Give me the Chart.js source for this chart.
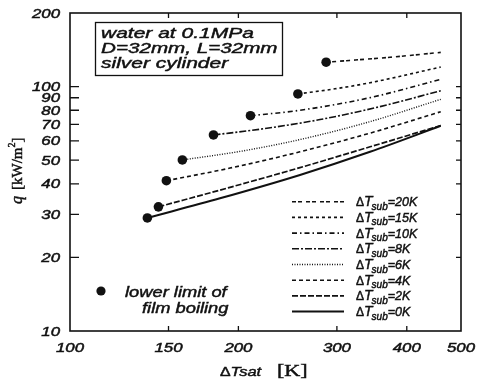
<!DOCTYPE html>
<html>
<head>
<meta charset="utf-8">
<script src="https://cdn.jsdelivr.net/npm/chart.js@4.4.1/dist/chart.umd.min.js"></script>
<style>
  html, body { margin: 0; padding: 0; background: #fff; }
  #wrap { width: 483px; height: 381px; }
</style>
</head>
<body>
<div id="wrap"><canvas id="boilChart" width="483" height="381"></canvas></div>
<script>
// 膜沸騰曲線：各系列の先頭点が膜沸騰の下限
const xTicks = [100, 150, 200, 300, 400, 500];
const yTicks = [10, 20, 30, 40, 50, 60, 70, 80, 90, 100, 200];
const subLabels = ['20K', '15K', '10K', '8K', '6K', '4K', '2K', '0K'];

// [ΔTsat (K), q (kW/m2)]
const sub20 = [[287, 125.8], [373.4, 131.8], [460, 138]];
const sub15 = [[255.5, 93.3], [297.6, 97.9], [343.9, 103.7], [460, 120.2]];
const sub10 = [[210.2, 76], [257.7, 80], [343.9, 90.1], [460, 107.1]];
const sub8 = [[180.5, 63.4], [218.6, 66.9], [279.9, 73.3], [358.3, 82.8], [460, 96.2]];
const sub6 = [[158.8, 50.1], [201.4, 54.3], [257.7, 60.7], [343.9, 71.9], [460, 88.7]];
const sub4 = [[148.7, 41.2], [193.2, 46.4], [257.7, 54.1], [343.9, 64.5], [460, 78.9]];
const sub2 = [[143.9, 32.2], [193.2, 38.7], [257.7, 46.6], [343.9, 56.7], [460, 69.3]];
const sub0 = [[137.5, 29], [185.4, 34.9], [257.7, 43.5], [343.9, 54.1], [460, 69.1]];

const curves = [sub20, sub15, sub10, sub8, sub6, sub4, sub2, sub0];

// 線種
const lineStyles = [
  { dash: [4, 2, 4, 4], w: 1.6 },
  { dash: [3, 3], w: 1.6 },
  { dash: [5, 3, 1.5, 3], w: 1.6 },
  { dash: [7, 2, 2, 2], w: 1.6 },
  { dash: [1, 1.5], w: 1.4 },
  { dash: [4, 3], w: 1.6 },
  { dash: [6, 2], w: 1.7 },
  { dash: [], w: 2 }
];

const INK = '#111';
const SANS = '"Liberation Sans", Arial, sans-serif';
const SERIF = '"Liberation Serif", "Times New Roman", serif';
const TEXT_STROKE = 0.45;

function inkText(ctx, str) {
  ctx.fillText(str, 0, 0);
  ctx.lineWidth = TEXT_STROKE;
  ctx.strokeText(str, 0, 0);
}

// 横に引き伸ばした文字列
function wideText(ctx, str, x, y, font, align, sx) {
  ctx.save();
  ctx.font = font;
  const w = ctx.measureText(str).width * sx;
  let x0 = x;
  if (align === 'center') x0 = x - w / 2;
  else if (align === 'right') x0 = x - w;
  ctx.translate(x0, y);
  ctx.scale(sx, 1);
  ctx.textAlign = 'left';
  ctx.textBaseline = 'alphabetic';
  inkText(ctx, str);
  ctx.restore();
  return w;
}

// フォント混在の文字列（添字など）
function runText(ctx, runs, x, y, sx) {
  let cx = x;
  runs.forEach(r => {
    ctx.save();
    ctx.font = r.font;
    ctx.textAlign = 'left';
    ctx.textBaseline = 'alphabetic';
    ctx.translate(cx, y + (r.dy || 0));
    ctx.scale(sx, 1);
    inkText(ctx, r.t);
    cx += (ctx.measureText(r.t).width + (r.gap || 0)) * sx;
    ctx.restore();
  });
  return cx;
}

const decor = {
  id: 'decor',
  afterDraw(chart) {
    const { ctx, chartArea: a, scales: { x, y } } = chart;
    ctx.save();
    ctx.strokeStyle = INK;
    ctx.fillStyle = INK;

    // 枠
    ctx.lineWidth = 1.6;
    ctx.strokeRect(a.left, a.top, a.right - a.left, a.bottom - a.top);

    // 内向きの目盛
    ctx.lineWidth = 1.3;
    ctx.beginPath();
    xTicks.slice(1, -1).forEach(v => {
      const px = x.getPixelForValue(v);
      ctx.moveTo(px, a.bottom); ctx.lineTo(px, a.bottom - 5);
      ctx.moveTo(px, a.top); ctx.lineTo(px, a.top + 5);
    });
    yTicks.slice(1, -1).forEach(v => {
      const py = y.getPixelForValue(v);
      ctx.moveTo(a.left, py); ctx.lineTo(a.left + 9, py);
      ctx.moveTo(a.right, py); ctx.lineTo(a.right - 5, py);
    });
    ctx.stroke();

    // 目盛ラベル
    const tickFont = 'italic 12px ' + SANS;
    yTicks.forEach(v => wideText(ctx, String(v), 60, y.getPixelForValue(v) + 4.5, tickFont, 'right', 1.4));
    xTicks.forEach(v => wideText(ctx, String(v), x.getPixelForValue(v), 351.5, tickFont, 'center', 1.4));

    // 横軸タイトル
    runText(ctx, [
      { t: 'Δ', font: '12.5px ' + SANS },
      { t: 'Tsat', font: 'italic 13px ' + SANS }
    ], 220, 376, 1.27);
    wideText(ctx, '[K]', 277, 376, '17px ' + SERIF, 'left', 1.3);

    // 縦軸タイトル
    ctx.save();
    ctx.translate(22, 204);
    ctx.rotate(-Math.PI / 2);
    runText(ctx, [
      { t: 'q', font: 'italic 16px ' + SERIF, gap: 6 },
      { t: '[kW/m', font: '15px ' + SERIF },
      { t: '2', font: '10px ' + SERIF, dy: -7 },
      { t: ']', font: '15px ' + SERIF }
    ], 0, 0, 1);
    ctx.restore();

    // 条件の枠
    ctx.lineWidth = 1.3;
    ctx.strokeRect(95.5, 22.5, 187, 53);
    const infoFont = 'italic 15px ' + SANS;
    wideText(ctx, 'water at 0.1MPa', 101, 38, infoFont, 'left', 1.4);
    wideText(ctx, 'D=32mm, L=32mm', 101, 53, infoFont, 'left', 1.375);
    wideText(ctx, 'silver cylinder', 101, 68, infoFont, 'left', 1.4);

    // 凡例
    subLabels.forEach((lab, i) => {
      const ry = 201.7 + i * 15.7;
      const st = lineStyles[i];
      ctx.save();
      ctx.lineWidth = st.w;
      ctx.setLineDash(st.dash);
      ctx.beginPath();
      ctx.moveTo(292, ry); ctx.lineTo(344, ry);
      ctx.stroke();
      ctx.restore();
      runText(ctx, [
        { t: 'Δ', font: '12px ' + SANS },
        { t: 'T', font: 'italic 14px ' + SANS, gap: -1 },
        { t: 'sub', font: 'italic 10px ' + SANS, dy: 3.5 },
        { t: '=' + lab, font: 'italic 12.5px ' + SANS }
      ], 356, ry + 4.5, 1);
    });

    // 下限点の凡例
    ctx.beginPath();
    ctx.arc(101, 291, 4.6, 0, Math.PI * 2);
    ctx.fill();
    const noteFont = 'italic 15px ' + SANS;
    wideText(ctx, 'lower limit of', 125, 296.5, noteFont, 'left', 1.22);
    wideText(ctx, 'film boiling', 142, 313, noteFont, 'left', 1.22);

    ctx.restore();
  }
};

new Chart(document.getElementById('boilChart'), {
  type: 'line',
  data: {
    datasets: curves.map((c, i) => ({
      label: 'ΔTsub=' + subLabels[i],
      data: c.map(p => ({ x: p[0], y: p[1] })),
      borderColor: INK,
      borderWidth: lineStyles[i].w,
      borderDash: lineStyles[i].dash,
      pointRadius: ctx => (ctx.dataIndex === 0 ? 4.8 : 0),
      pointBackgroundColor: INK,
      pointBorderWidth: 0,
      pointHoverRadius: 0,
      cubicInterpolationMode: 'monotone',
      fill: false
    }))
  },
  options: {
    responsive: false,
    animation: false,
    devicePixelRatio: 1,
    events: [],
    layout: { padding: { left: 70, right: 22, top: 13, bottom: 50 } },
    plugins: { legend: { display: false }, tooltip: { enabled: false } },
    scales: {
      x: { type: 'logarithmic', min: 100, max: 500, display: false },
      y: { type: 'logarithmic', min: 10, max: 200, display: false }
    }
  },
  plugins: [decor]
});
</script>
</body>
</html>
